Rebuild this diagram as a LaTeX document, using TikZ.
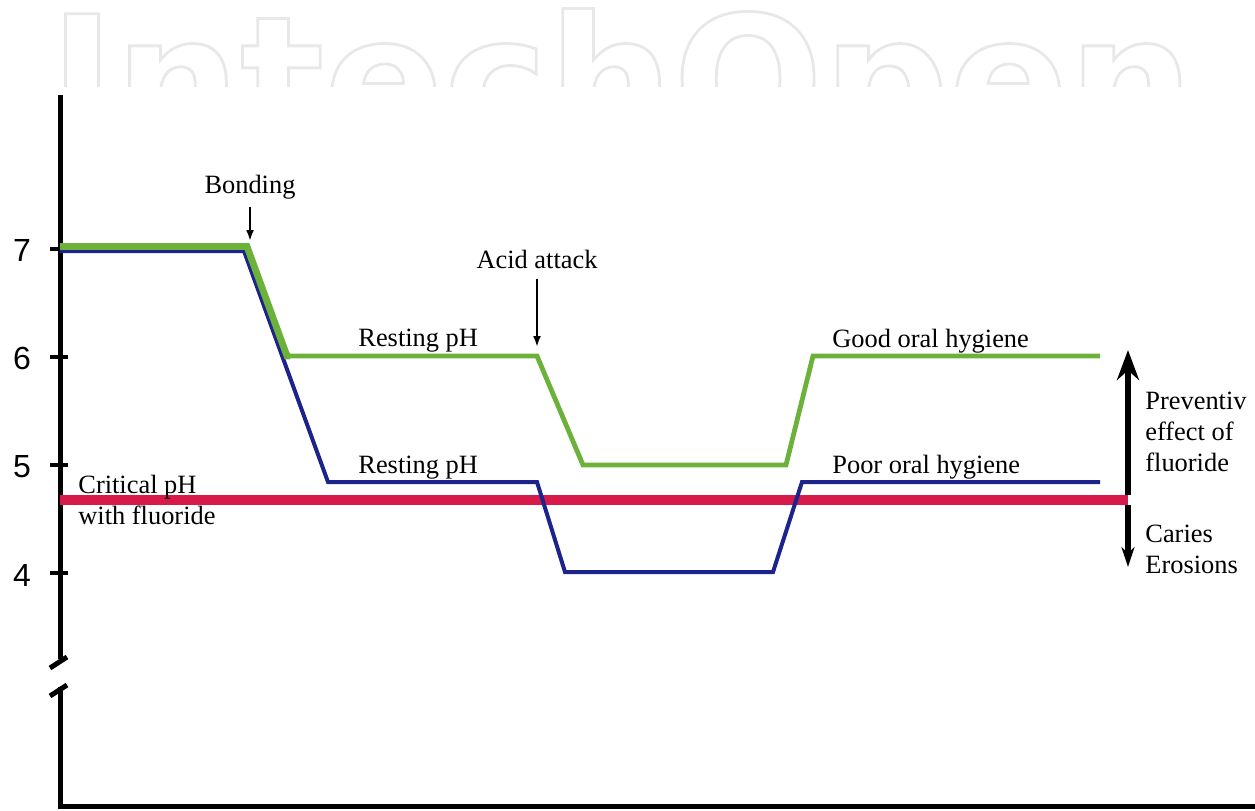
\documentclass[tikz,border=0pt]{standalone}
\usepackage{fontspec}
\setmainfont{Liberation Serif}
\newfontfamily\numfont{Liberation Sans}
\newfontfamily\wmfont{DejaVu Sans Bold}
\usetikzlibrary{arrows.meta}
\definecolor{lgreen}{RGB}{108,178,58}
\definecolor{lblue}{RGB}{28,36,140}
\definecolor{lred}{RGB}{214,26,74}
\newcommand\wmoutline[1]{\special{pdf:literal direct 1 Tr 1.4 w}#1\special{pdf:literal direct 0 Tr}}
\begin{document}
\begin{tikzpicture}[x=0.5pt,y=-0.5pt,
  lbl/.style={font=\fontsize{13.2}{15.5}\selectfont, inner sep=0pt},
  num/.style={font=\numfont\fontsize{16}{16}\selectfont, inner sep=0pt},
  axisline/.style={line width=2.5pt, black},
  tickline/.style={line width=2pt, black},
  gline/.style={line width=2.4pt, lgreen},
  bline/.style={line width=2pt, lblue},
  rline/.style={line width=5pt, lred},
  smallarr/.style={line width=1.2pt, -{Latex[length=5.5pt,width=4pt]}},
  bigarr/.style={line width=3pt, black}]
\useasboundingbox (0,0) rectangle (1255,810);
% watermark
\begin{scope}
  \clip (0,0) rectangle (1255,86);
  \node[anchor=north west, inner sep=0pt, text=black!9,
        font=\wmfont\fontsize{88}{88}\selectfont] (wm) at (49,8)
        {\raisebox{0pt}[\height][0pt]{\wmoutline{IntechOpen}}};
\end{scope}
% axis
\draw[axisline] (60,95) -- (60,659);
\draw[axisline] (50,668) -- (67,657);
\draw[axisline] (50,696) -- (67,685);
\draw[axisline] (60,687) -- (60,806) -- (1255,806);
% ticks
\foreach \yy in {249,357,465,573} \draw[tickline] (50,\yy) -- (68,\yy);
\node[num] (n7) at (22,250) {7};
\node[num] (n6) at (22,358) {6};
\node[num] (n5) at (22,467) {5};
\node[num] (n4) at (22,575) {4};
% curves
\draw[rline] (60,500) -- (1128,500);
\draw[bline] (60,251) -- (244,251) -- (328,482) -- (537,482) -- (565,572) -- (773,572) -- (802,482) -- (1100,482);
\draw[gline] (287,356) -- (537,356) -- (583,465) -- (786,465) -- (813,356) -- (1100,356);
\draw[gline, line width=3.4pt] (60,246.5) -- (247,246.5) -- (287,356) -- (290,356);
% labels
\node[lbl, anchor=base] (bond) at (250,193) {Bonding};
\coordinate (bondtip) at (250,241);
\draw[smallarr, shorten <=4pt] (bond.south) -- (bondtip);
\node[lbl, anchor=base] (acid) at (537,268) {Acid attack};
\coordinate (acidtip) at (537,347);
\draw[smallarr, shorten <=5pt] (acid.south) -- (acidtip);
\node[lbl, anchor=base west] (restg) at (358,346) {Resting pH};
\node[lbl, anchor=base west] (restb) at (358,473) {Resting pH};
\node[lbl, anchor=base west] (good) at (832,347) {Good oral hygiene};
\node[lbl, anchor=base west] (poor) at (832,473) {Poor oral hygiene};
\node[lbl, anchor=north west, align=left] (crit) at (78,475) {Critical pH\\with fluoride};
\node[lbl, anchor=north west, align=left] (prev) at (1145,392) {Preventiv\\effect of\\fluoride};
\node[lbl, anchor=north west, align=left] (car) at (1145,525) {Caries\\Erosions};
% double arrow
\coordinate (pa) at (1128,495);
\coordinate (ptop) at (1128,350);
\coordinate (pb) at (1128,505);
\coordinate (pbot) at (1128,567);
\draw[bigarr, -{Stealth[length=15pt,width=11pt]}] (pa) -- (ptop);
\draw[bigarr, -{Stealth[length=10pt,width=6.5pt]}] (pb) -- (pbot);
\end{tikzpicture}
\end{document}
